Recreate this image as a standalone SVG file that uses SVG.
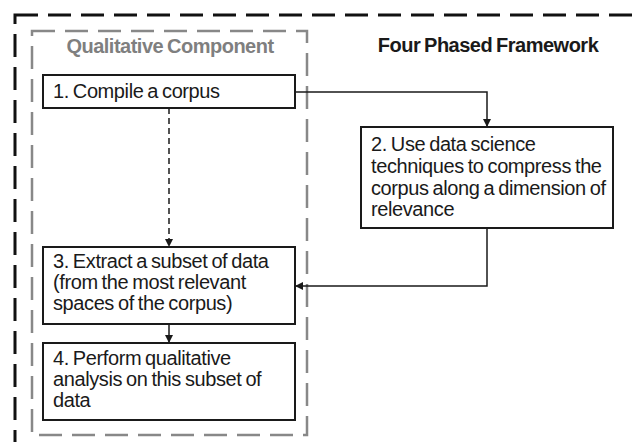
<svg xmlns="http://www.w3.org/2000/svg" width="632" height="442" viewBox="0 0 632 442">
<style>
.t{font-family:"Liberation Sans",Arial,sans-serif;font-size:20px;letter-spacing:-0.4px;word-spacing:-1.2px;fill:#1a1a1a}
.h{font-family:"Liberation Sans",Arial,sans-serif;font-size:20px;font-weight:bold;letter-spacing:-0.5px;word-spacing:-1.2px}
.box{fill:#fff;stroke:#1a1a1a;stroke-width:2}
.c{fill:none;stroke:#1a1a1a;stroke-width:1.5}
</style>
<defs>
<marker id="ah" viewBox="0 0 8 8" refX="8" refY="4" markerWidth="8" markerHeight="8" markerUnits="userSpaceOnUse" orient="auto">
<path d="M0,0 L8,4 L0,8 z" fill="#1a1a1a"/>
</marker>
</defs>
<rect width="632" height="442" fill="#fff"/>
<rect id="outer" x="15" y="15" width="650" height="460" fill="none" stroke="#111" stroke-width="3" stroke-dasharray="23,10"/>
<g id="qualitative">
<rect x="32" y="31" width="275" height="404" fill="none" stroke="#888" stroke-width="2.5" stroke-dasharray="23,10"/>
<text class="h" x="170" y="53" text-anchor="middle" fill="#7f7f7f">Qualitative Component</text>
</g>
<text id="title" class="h" x="488" y="52" text-anchor="middle" fill="#1a1a1a">Four Phased Framework</text>
<g id="connectors">
<path class="c" d="M295,92 H487 V127" marker-end="url(#ah)"/>
<path class="c" d="M487,228 V286 H295" marker-end="url(#ah)"/>
<path class="c" d="M169,108 V247" stroke-dasharray="6,4" marker-end="url(#ah)"/>
<path class="c" d="M169,324 V343" marker-end="url(#ah)"/>
</g>
<g id="n1">
<rect class="box" x="43" y="75" width="252" height="33"/>
<text class="t" x="53" y="98">1. Compile a corpus</text>
</g>
<g id="n2">
<rect class="box" x="361" y="127" width="252" height="101"/>
<text class="t" x="371" y="151">2. Use data science</text>
<text class="t" x="371" y="173">techniques to compress the</text>
<text class="t" x="371" y="195">corpus along a dimension of</text>
<text class="t" x="371" y="216">relevance</text>
</g>
<g id="n3">
<rect class="box" x="43" y="247" width="252" height="77"/>
<text class="t" x="53" y="268">3. Extract a subset of data</text>
<text class="t" x="53" y="289">(from the most relevant</text>
<text class="t" x="53" y="310">spaces of the corpus)</text>
</g>
<g id="n4">
<rect class="box" x="43" y="343" width="252" height="77"/>
<text class="t" x="53" y="365">4. Perform qualitative</text>
<text class="t" x="53" y="386">analysis on this subset of</text>
<text class="t" x="53" y="407">data</text>
</g>
</svg>
